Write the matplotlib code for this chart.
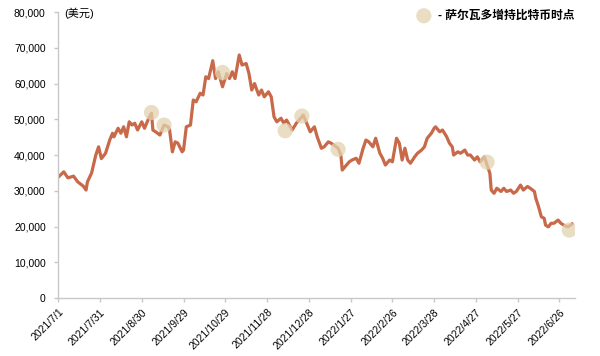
import pandas as pd
import matplotlib.pyplot as plt
import matplotlib.dates as mdates
from matplotlib.ticker import FuncFormatter

plt.rcParams['font.family'] = ['Liberation Sans', 'Noto Sans CJK SC', 'DejaVu Sans']

# 比特币价格 (美元)
dates = [
    "2021-07-01", "2021-07-05", "2021-07-08", "2021-07-12", "2021-07-15", "2021-07-19",
    "2021-07-21", "2021-07-22", "2021-07-25", "2021-07-28", "2021-07-30", "2021-08-01",
    "2021-08-04", "2021-08-07", "2021-08-09", "2021-08-10", "2021-08-13", "2021-08-15",
    "2021-08-17", "2021-08-19", "2021-08-21", "2021-08-23", "2021-08-25", "2021-08-27",
    "2021-08-30", "2021-09-01", "2021-09-04", "2021-09-06", "2021-09-07", "2021-09-09",
    "2021-09-12", "2021-09-13", "2021-09-15", "2021-09-18", "2021-09-19", "2021-09-21",
    "2021-09-23", "2021-09-25", "2021-09-28", "2021-09-29", "2021-10-01", "2021-10-04",
    "2021-10-06", "2021-10-08", "2021-10-11", "2021-10-13", "2021-10-15", "2021-10-17",
    "2021-10-20", "2021-10-22", "2021-10-24", "2021-10-27", "2021-10-30", "2021-11-01",
    "2021-11-03", "2021-11-05", "2021-11-08", "2021-11-10", "2021-11-13", "2021-11-15",
    "2021-11-17", "2021-11-19", "2021-11-22", "2021-11-24", "2021-11-26", "2021-11-29",
    "2021-12-01", "2021-12-03", "2021-12-05", "2021-12-08", "2021-12-10", "2021-12-12",
    "2021-12-16", "2021-12-19", "2021-12-23", "2021-12-24", "2021-12-27", "2021-12-29",
    "2022-01-01", "2022-01-03", "2022-01-06", "2022-01-08", "2022-01-11", "2022-01-13",
    "2022-01-15", "2022-01-18", "2022-01-20", "2022-01-21", "2022-01-24", "2022-01-26",
    "2022-01-28", "2022-01-31", "2022-02-02", "2022-02-05", "2022-02-07", "2022-02-09",
    "2022-02-12", "2022-02-14", "2022-02-17", "2022-02-19", "2022-02-21", "2022-02-24",
    "2022-02-26", "2022-03-01", "2022-03-03", "2022-03-05", "2022-03-07", "2022-03-09",
    "2022-03-11", "2022-03-14", "2022-03-16", "2022-03-19", "2022-03-21", "2022-03-23",
    "2022-03-26", "2022-03-28", "2022-03-29", "2022-04-01", "2022-04-03", "2022-04-06",
    "2022-04-08", "2022-04-10", "2022-04-11", "2022-04-14", "2022-04-16", "2022-04-19",
    "2022-04-21", "2022-04-23", "2022-04-26", "2022-04-28", "2022-04-30", "2022-05-03",
    "2022-05-05", "2022-05-07", "2022-05-08", "2022-05-10", "2022-05-12", "2022-05-15",
    "2022-05-17", "2022-05-19", "2022-05-22", "2022-05-24", "2022-05-26", "2022-05-29",
    "2022-05-31", "2022-06-03", "2022-06-05", "2022-06-08", "2022-06-09", "2022-06-11",
    "2022-06-13", "2022-06-15", "2022-06-16", "2022-06-18", "2022-06-20", "2022-06-22",
    "2022-06-25", "2022-06-27", "2022-06-29", "2022-07-02", "2022-07-04", "2022-07-05",
]
prices = [
    33800, 35300, 33600, 34100, 32500, 31300,
    30200, 32500, 35000, 40000, 42300, 39000,
    40500, 44200, 46100, 45100, 47500, 46100,
    47900, 45100, 49300, 48400, 48900, 47000,
    49300, 47500, 50300, 51700, 47000, 46500,
    45600, 46500, 48400, 47900, 47000, 40900,
    43700, 43300, 40900, 41400, 47900, 48400,
    55400, 54900, 57300, 56800, 61900, 61400,
    66400, 61400, 63300, 59100, 62800, 61400,
    63300, 61400, 68000, 65200, 65600, 62800,
    58200, 60000, 56800, 58200, 56300, 57700,
    56300, 50700, 49300, 50300, 48900, 49800,
    47000, 48900, 50700, 51200, 48400, 46500,
    47900, 45100, 41900, 42300, 43700, 43300,
    42800, 41900, 40000, 35800, 37200, 38100,
    38600, 39100, 37700, 41900, 44200, 43700,
    42300, 44700, 40500, 39100, 37200, 38600,
    38100, 44700, 43300, 38600, 41900, 38600,
    37700, 39500, 40500, 41400, 42300, 44700,
    46100, 47500, 47900, 46500, 47000, 45100,
    43300, 42300, 40000, 40900, 40500, 41400,
    40000, 40000, 38600, 39500, 38100, 39500,
    37200, 34900, 30200, 29300, 30700, 29800,
    30700, 29800, 30200, 29300, 29800, 31600,
    30200, 31200, 30700, 29800, 27900, 25500,
    22700, 22300, 20400, 19900, 20900, 20900,
    21800, 20900, 20400, 19900, 20400, 20700,
]

# 萨尔瓦多增持比特币时点
buy_dates = ["2021-09-06", "2021-09-15", "2021-10-27", "2021-12-11",
             "2021-12-23", "2022-01-18", "2022-05-05", "2022-07-03"]
buy_prices = [51900, 48400, 63100, 46800, 50900, 41600, 38000, 19000]

tick_labels = ["2021/7/1", "2021/7/31", "2021/8/30", "2021/9/29", "2021/10/29",
               "2021/11/28", "2021/12/28", "2022/1/27", "2022/2/26", "2022/3/28",
               "2022/4/27", "2022/5/27", "2022/6/26"]

x = pd.to_datetime(dates)
bx = pd.to_datetime(buy_dates)
ticks = pd.to_datetime(tick_labels, format="%Y/%m/%d")

fig = plt.figure(figsize=(6, 3.56), dpi=100)
ax = fig.add_axes([0.097, 0.163, 0.861, 0.803])

ax.plot(x, prices, color='#C8694A', lw=2.3, solid_joinstyle='round', zorder=2)
ax.scatter(bx, buy_prices, s=120, color='#E2D4B0', alpha=0.75, edgecolors='none',
           zorder=3, label="- 萨尔瓦多增持比特币时点")

ax.set_xlim(pd.Timestamp("2021-07-01"), pd.Timestamp("2022-07-07"))
ax.set_ylim(0, 80000)
ax.set_yticks(range(0, 80001, 10000))
ax.yaxis.set_major_formatter(FuncFormatter(lambda v, p: f"{int(v):,}"))
ax.set_xticks(ticks)
ax.set_xticklabels(tick_labels, rotation=45, ha='right', rotation_mode='anchor')

for s in ['top', 'right']:
    ax.spines[s].set_visible(False)
for s in ['left', 'bottom']:
    ax.spines[s].set_color('#C8C8C8')
    ax.spines[s].set_linewidth(1.0)
ax.tick_params(axis='both', colors='#C8C8C8', labelcolor='black', labelsize=7.5,
               length=3, width=1)
ax.tick_params(axis='y', pad=6)

ax.text(0.012, 0.995, "(美元)", transform=ax.transAxes, fontsize=8,
        ha='left', va='center')

leg = ax.legend(loc='upper right', bbox_to_anchor=(1.02, 1.045), frameon=False,
                handletextpad=0.2, prop={'size': 8.5, 'weight': 'bold'})

plt.savefig('out.png', dpi=100)
